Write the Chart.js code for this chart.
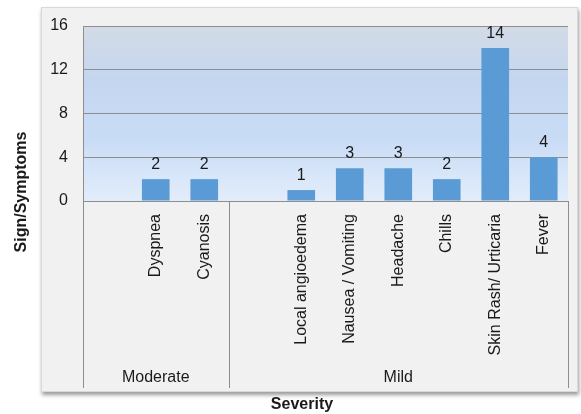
<!DOCTYPE html>
<html>
<head>
<meta charset="utf-8">
<script src="https://cdn.jsdelivr.net/npm/chart.js@4.4.1/dist/chart.umd.min.js"></script>
<style>
  html, body { margin: 0; padding: 0; background: #ffffff; }
  #c { display: block; }
</style>
</head>
<body>
<canvas id="c" width="581" height="414"></canvas>
<script>
// Sign/symptom counts, grouped by severity
const categories = ['', 'Dyspnea', 'Cyanosis', '', 'Local angioedema', 'Nausea / Vomiting',
                    'Headache', 'Chills', 'Skin Rash/ Urticaria', 'Fever'];
const counts = [null, 2, 2, null, 1, 3, 3, 2, 14, 4];
const groupNames = ['Moderate', 'Mild'];
const groupSizes = [3, 7];
const yMin = 0, yMax = 16, yStep = 4;

const FONT = '"Liberation Sans", Arial, Helvetica, sans-serif';
const TEXT = '#1a1a1a';
const LINE = '#8e8e8e';

// Frame, plot background gradient, severity groups, value labels, axis titles
const decor = {
  id: 'decor',
  beforeDraw(chart) {
    const ctx = chart.ctx;
    const ca = chart.chartArea;
    ctx.save();
    ctx.fillStyle = '#ffffff';
    ctx.fillRect(0, 0, chart.width, chart.height);
    // outer chart frame with a soft drop shadow
    ctx.shadowColor = 'rgba(0,0,0,0.4)';
    ctx.shadowBlur = 4;
    ctx.shadowOffsetX = 1;
    ctx.shadowOffsetY = 3;
    ctx.fillStyle = '#f1f1f1';
    ctx.fillRect(41, 7, 537, 385);
    ctx.shadowColor = 'transparent';
    ctx.strokeStyle = '#d9d9d9';
    ctx.lineWidth = 1;
    ctx.strokeRect(41.5, 7.5, 536, 384);
    // plot area gradient
    const g = ctx.createLinearGradient(0, ca.top, 0, ca.bottom);
    g.addColorStop(0, '#d3dbe6');
    g.addColorStop(0.3, '#c4d6ef');
    g.addColorStop(0.65, '#c9dcf6');
    g.addColorStop(1, '#e2edfb');
    ctx.fillStyle = g;
    ctx.fillRect(ca.left, ca.top, ca.right - ca.left, ca.bottom - ca.top);
    ctx.restore();
  },
  afterDatasetsDraw(chart) {
    const ctx = chart.ctx;
    const meta = chart.getDatasetMeta(0);
    ctx.save();
    ctx.font = '16px ' + FONT;
    ctx.fillStyle = TEXT;
    ctx.textAlign = 'center';
    ctx.textBaseline = 'alphabetic';
    meta.data.forEach((bar, i) => {
      const v = counts[i];
      if (v === null || v === undefined) return;
      ctx.fillText(String(v), bar.x, bar.y - 10);
    });
    ctx.restore();
  },
  afterDraw(chart) {
    const ctx = chart.ctx;
    const ca = chart.chartArea;
    const step = (ca.right - ca.left) / categories.length;
    const bottom = 388;
    ctx.save();
    ctx.strokeStyle = LINE;
    ctx.lineWidth = 1;
    // group dividers in the category area
    let idx = 0;
    const edges = [0];
    groupSizes.forEach(s => { idx += s; edges.push(idx); });
    edges.forEach(e => {
      const px = Math.round(ca.left + e * step) + 0.5;
      ctx.beginPath();
      ctx.moveTo(px, ca.bottom);
      ctx.lineTo(px, bottom);
      ctx.stroke();
    });
    // group names
    ctx.font = '16px ' + FONT;
    ctx.fillStyle = TEXT;
    ctx.textAlign = 'center';
    ctx.textBaseline = 'middle';
    groupNames.forEach((name, k) => {
      const l = ca.left + edges[k] * step;
      const r = ca.left + edges[k + 1] * step;
      ctx.fillText(name, (l + r) / 2, 378);
    });
    // axis titles
    ctx.font = 'bold 16px ' + FONT;
    ctx.fillText('Severity', 302, 405);
    ctx.translate(22, 192);
    ctx.rotate(-Math.PI / 2);
    ctx.fillText('Sign/Symptoms', 0, 0);
    ctx.restore();
  }
};

new Chart(document.getElementById('c'), {
  type: 'bar',
  data: {
    labels: categories,
    datasets: [{
      data: counts,
      backgroundColor: '#5b9bd5',
      borderWidth: 0,
      barPercentage: 0.57,
      categoryPercentage: 1.0
    }]
  },
  options: {
    responsive: false,
    animation: false,
    devicePixelRatio: 1,
    layout: { padding: { left: 0, right: 13, top: 26, bottom: 0 } },
    plugins: {
      legend: { display: false },
      tooltip: { enabled: false },
      title: { display: false }
    },
    scales: {
      x: {
        grid: { display: false },
        border: { display: true, color: LINE, width: 1 },
        ticks: {
          autoSkip: false,
          minRotation: 90,
          maxRotation: 90,
          padding: 5,
          color: TEXT,
          font: { family: FONT, size: 16 }
        },
        afterFit(scale) { scale.height = 213; }
      },
      y: {
        min: yMin,
        max: yMax,
        grid: { color: LINE, lineWidth: 1, drawTicks: false },
        border: { display: true, color: LINE, width: 1 },
        ticks: {
          stepSize: yStep,
          padding: 15,
          color: TEXT,
          font: { family: FONT, size: 16 }
        },
        afterFit(scale) { scale.width = 83; }
      }
    }
  },
  plugins: [decor]
});
</script>
</body>
</html>
